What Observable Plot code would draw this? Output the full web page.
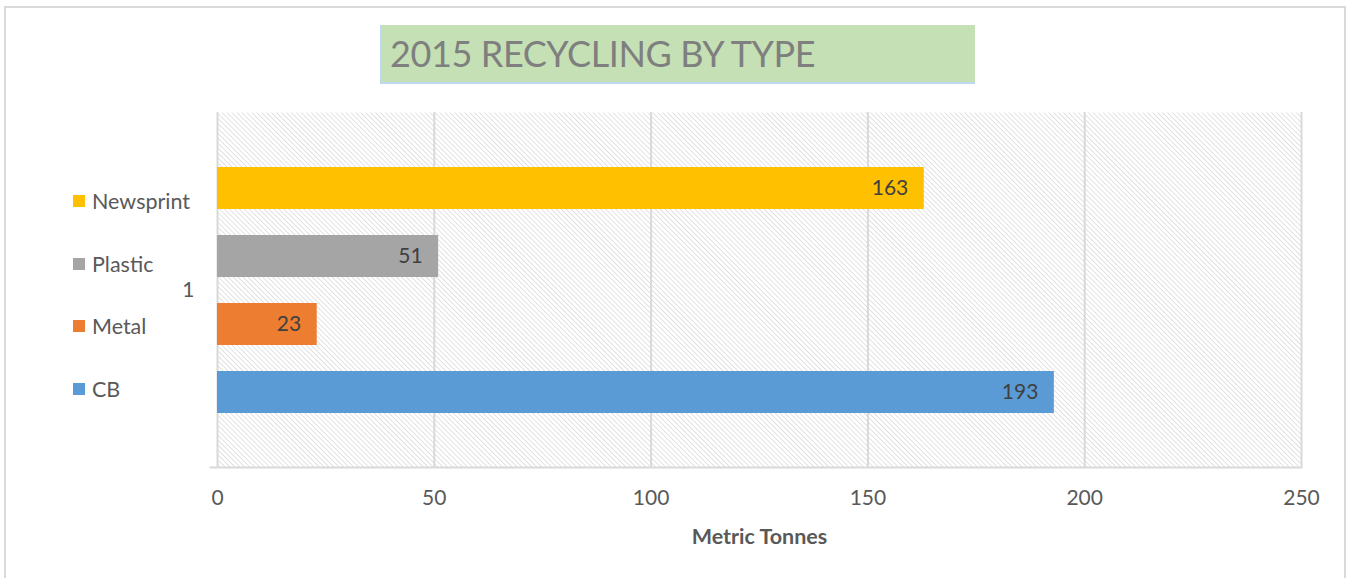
<!DOCTYPE html>
<html>
<head>
<meta charset="utf-8">
<script src="https://cdn.jsdelivr.net/npm/d3@7"></script>
<script src="https://cdn.jsdelivr.net/npm/@observablehq/plot@0.6"></script>
<style>
  html, body { margin: 0; padding: 0; background: #fff; width: 1352px; height: 578px; overflow: hidden; }
  #wrap { position: relative; width: 1352px; height: 578px; font-family: Lato, "Open Sans", sans-serif; }
  #border { position: absolute; left: 4px; top: 6px; width: 1342px; height: 600px; border: 2px solid #d9d9d9; box-sizing: border-box; }
  #title { position: absolute; left: 380px; top: 25px; width: 595px; height: 59px; background: #c5e0b4;
           border-left: 1px solid #bdd7ee; border-bottom: 2px solid #bdd7ee; box-sizing: border-box;
           color: #7f7f7f; font-size: 36px; line-height: 57px; padding-left: 9px; letter-spacing: -0.4px; white-space: nowrap; }
  #chart { position: absolute; left: 0; top: 0; }
  .leg { position: absolute; left: 73px; display: flex; align-items: center; color: #595959; font-size: 21.5px; white-space: nowrap; }
  .leg .sw { width: 12px; height: 12px; margin-right: 7px; }
</style>
</head>
<body>
<div id="wrap">
  <div id="border"></div>
  <div id="chart"></div>
  <div id="title">2015 RECYCLING BY TYPE</div>
</div>
<script>
const types = ["Newsprint", "Plastic", "Metal", "CB"];
const values = [163, 51, 23, 193];
const colors = ["#ffc000", "#a5a5a5", "#ed7d31", "#5b9bd5"];
const xTicks = [0, 50, 100, 150, 200, 250];
const groupLabels = ["1"];
const axisTitle = ["Metric Tonnes"];

const data = types.map((t, i) => ({type: t, value: values[i]}));

const plot = Plot.plot({
  width: 1352,
  height: 578,
  marginLeft: 217,
  marginRight: 51,
  marginTop: 112,
  marginBottom: 111,
  style: {fontFamily: "Lato, 'Open Sans', sans-serif", fontSize: "21px", color: "#595959", background: "transparent"},
  x: {domain: [0, 250], ticks: xTicks, label: null},
  y: {domain: types, range: [166, 414], paddingInner: 0.377, paddingOuter: 0, axis: null},
  color: {domain: types, range: colors},
  marks: [
    Plot.frame({fill: "url(#hatch)", stroke: null}),
    Plot.gridX(xTicks.slice(1), {stroke: "#d9d9d9", strokeOpacity: 1, strokeWidth: 2}),
    Plot.ruleX([0], {stroke: "#d9d9d9", strokeWidth: 2}),
    Plot.frame({anchor: "bottom", stroke: "#d9d9d9", strokeWidth: 2, insetLeft: -7}),
    Plot.barX(data, {y: "type", x: "value", fill: "type"}),
    Plot.text(data, {y: "type", x: "value", text: d => String(d.value), textAnchor: "end", dx: -16, fill: "#404040", fontSize: 21}),
    Plot.axisX(xTicks, {tickSize: 0, tickPadding: 23, fill: "#595959", fontSize: 21}),
    Plot.text(groupLabels, {frameAnchor: "left", dx: -23, textAnchor: "end", text: d => d, fill: "#595959", fontSize: 21}),
    Plot.text(axisTitle, {frameAnchor: "bottom", dy: 76, text: d => d, fontWeight: "bold", fill: "#595959", fontSize: 21.5})
  ]
});

const svg = d3.select(plot);
const defs = svg.insert("defs", ":first-child");
const pat = defs.append("pattern")
  .attr("id", "hatch")
  .attr("patternUnits", "userSpaceOnUse")
  .attr("width", 3.5)
  .attr("height", 3.5)
  .attr("patternTransform", "rotate(-45)");
pat.append("rect").attr("width", 3.5).attr("height", 3.5).attr("fill", "#ffffff");
pat.append("line").attr("x1", 0).attr("y1", 0).attr("x2", 0).attr("y2", 3.5)
  .attr("stroke", "#cfcfcf").attr("stroke-width", 1.2);

document.getElementById("chart").appendChild(plot);

// legend (not aligned to bars, as in the reference)
const wrap = document.getElementById("wrap");
types.forEach((t, i) => {
  const el = document.createElement("div");
  el.className = "leg";
  el.style.top = (188 + i * 62.7) + "px";
  el.innerHTML = `<span class="sw" style="background:${colors[i]}"></span><span>${t}</span>`;
  wrap.appendChild(el);
});
</script>
</body>
</html>
